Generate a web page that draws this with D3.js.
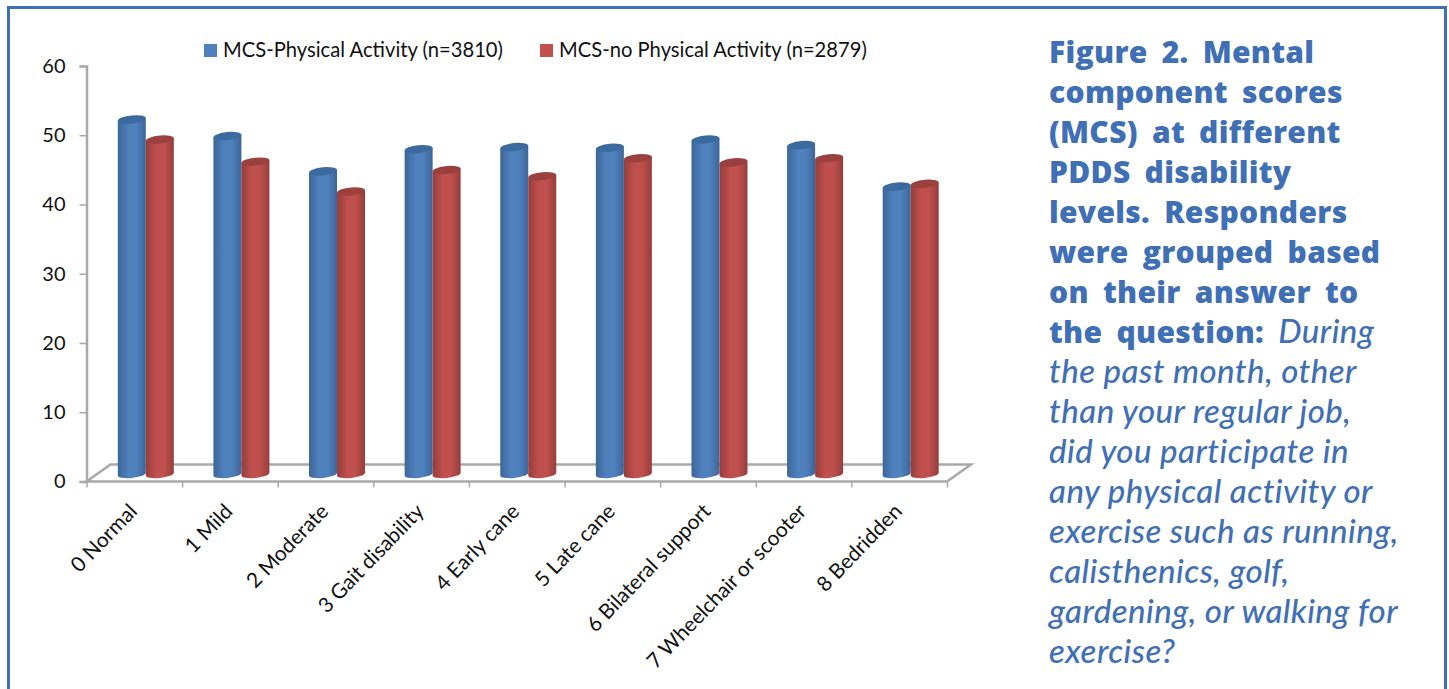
<!DOCTYPE html>
<html>
<head>
<meta charset="utf-8">
<script src="https://cdn.jsdelivr.net/npm/d3@7"></script>
<style>
	html, body { margin: 0; padding: 0; background: #fff; overflow: hidden; }
	text { font-family: Lato, sans-serif; fill: #111; }
</style>
</head>
<body>
<script>
const categories = ['0 Normal', '1 Mild', '2 Moderate', '3 Gait disability', '4 Early cane', '5 Late cane', '6 Bilateral support', '7 Wheelchair or scooter', '8 Bedridden'];
const seriesNames = ['MCS-Physical Activity (n=3810)', 'MCS-no Physical Activity (n=2879)'];
const activeValues = [51.2, 48.8, 43.7, 46.9, 47.2, 47.1, 48.3, 47.5, 41.5];
const inactiveValues = [48.3, 45.1, 40.8, 43.9, 43.0, 45.6, 45.0, 45.6, 41.9];
const yTicks = [0, 10, 20, 30, 40, 50, 60];

const boldLines = ['Figure 2. Mental', 'component scores', '(MCS) at different', 'PDDS disability', 'levels. Responders', 'were grouped based', 'on their answer to'];
const mixedLine = ['the question: ', 'During'];
const italicLines = ['the past month, other', 'than your regular job,', 'did you participate in', 'any physical activity or', 'exercise such as running,', 'calisthenics, golf,', 'gardening, or walking for', 'exercise?'];

const blue = { side: '#4f81bd', edge: '#3c6699', top: '#3b6a9f' };
const red = { side: '#c0504d', edge: '#943e3c', top: '#9a403e' };
const axisGrey = '#a9a9a9';
const inkBlue = '#3f6fb5';

const width = 1449;
const height = 689;

const svg = d3.select('body').append('svg')
	.attr('width', width)
	.attr('height', height);

// frame runs off the bottom of the page
svg.append('path')
	.attr('d', `M8.5,${height} V7.5 H1445.5 V${height}`)
	.attr('fill', 'none')
	.attr('stroke', inkBlue)
	.attr('stroke-width', 3);

const x = d3.scaleBand().domain(categories).range([86.5, 947]);
const xEdges = d3.scaleLinear().domain([0, categories.length]).range([86.5, 947]);
const y = d3.scaleLinear().domain([0, 60]).range([481.5, 66]);

// floor is sheared back by this much, bars stand halfway along it
const depth = { dx: 24, dy: -17 };
const barShift = { dx: 11.5, dy: -7.5 };
const barWidth = 28;

const defs = svg.append('defs');
[['blue', blue], ['red', red]].forEach(([id, c]) => {
	const grad = defs.append('linearGradient').attr('id', `cyl-${id}`);
	grad.append('stop').attr('offset', '0%').attr('stop-color', c.edge);
	grad.append('stop').attr('offset', '38%').attr('stop-color', c.side);
	grad.append('stop').attr('offset', '66%').attr('stop-color', c.side);
	grad.append('stop').attr('offset', '100%').attr('stop-color', c.edge);
});

// floor
const floorPts = [
	[x.range()[0], y(0)],
	[x.range()[1], y(0)],
	[x.range()[1] + depth.dx, y(0) + depth.dy],
	[x.range()[0] + depth.dx, y(0) + depth.dy],
];
svg.append('polygon')
	.attr('points', floorPts.join(' '))
	.attr('fill', '#fff')
	.attr('stroke', axisGrey)
	.attr('stroke-width', 2.5);

// axes
const yAxis = svg.append('g')
	.attr('transform', `translate(${x.range()[0]},0)`)
	.call(d3.axisLeft(y).tickValues(yTicks).tickSize(7).tickSizeOuter(7).tickPadding(14));
yAxis.select('.domain').attr('stroke', axisGrey).attr('stroke-width', 2.5);
yAxis.selectAll('.tick line').attr('stroke', axisGrey).attr('stroke-width', 1.5);
yAxis.selectAll('.tick text').attr('font-size', 20).attr('font-family', 'Lato, sans-serif');

const xAxis = svg.append('g')
	.attr('transform', `translate(0,${y(0)})`)
	.call(d3.axisBottom(xEdges).tickValues(d3.range(categories.length + 1)).tickSize(6).tickFormat(''));
xAxis.select('.domain').remove();
xAxis.selectAll('.tick line').attr('stroke', axisGrey).attr('stroke-width', 1.5);

svg.append('g').selectAll('text')
	.data(categories)
	.join('text')
	.attr('text-anchor', 'end')
	.attr('font-size', 20.8)
	.attr('transform', d => `translate(${x(d) + x.bandwidth() / 2 + 4},${y(0) + 31}) rotate(-46)`)
	.text(d => d);

// one tilted cylinder
const cylinder = (left, top, bottom) => {
	const rx = barWidth / 2;
	const ry = 4;
	const tilt = 1.4;
	const right = left + barWidth;
	return {
		body: `M${left},${top + tilt} L${left},${bottom + tilt} A${rx},${ry} -6 0 0 ${right},${bottom - tilt} L${right},${top - tilt} Z`,
		cap: `M${left},${top + tilt} A${rx},${ry} -6 0 1 ${right},${top - tilt} A${rx},${ry} -6 0 1 ${left},${top + tilt} Z`,
	};
};

const drawSeries = (values, id, c, offset) => {
	const bars = svg.append('g').selectAll('g')
		.data(categories.map((name, i) => ({ name, value: values[i] })))
		.join('g');
	const shape = d => cylinder(
		x(d.name) + x.bandwidth() / 2 + barShift.dx + offset,
		y(d.value) + barShift.dy,
		y(0) + barShift.dy
	);
	bars.append('path').attr('d', d => shape(d).body).attr('fill', `url(#cyl-${id})`);
	bars.append('path').attr('d', d => shape(d).cap).attr('fill', c.top);
};

drawSeries(activeValues, 'blue', blue, -barWidth);
drawSeries(inactiveValues, 'red', red, 0);

// legend
const legend = svg.append('g').selectAll('g')
	.data(seriesNames)
	.join('g')
	.attr('transform', (d, i) => `translate(${[204, 540][i]},44)`);
legend.append('rect')
	.attr('width', 13)
	.attr('height', 13)
	.attr('fill', (d, i) => [blue, red][i].side);
legend.append('text')
	.attr('x', 19)
	.attr('y', 12.5)
	.attr('font-size', 20.2)
	.text(d => d);

// caption
const lineY = d3.scaleLinear().domain([0, 1]).range([63, 103]);
const caption = svg.append('g');
const captionStyle = sel => sel.attr('x', 1049).style('fill', inkBlue);
const headStyle = sel => sel.attr('font-size', 30)
	.style('font-family', '"Open Sans", sans-serif')
	.style('letter-spacing', '0.3px')
	.style('word-spacing', '6px')
	.attr('font-weight', 800);
const bodyStyle = sel => sel.attr('font-size', 33)
	.style('font-family', 'Lato, sans-serif')
	.style('letter-spacing', '0.45px')
	.attr('font-style', 'italic')
	.attr('font-weight', 500);

caption.selectAll('text.head')
	.data(boldLines)
	.join('text')
	.attr('class', 'head')
	.attr('y', (d, i) => lineY(i))
	.call(captionStyle)
	.call(headStyle)
	.text(d => d);

const mixed = caption.append('text')
	.attr('y', lineY(boldLines.length))
	.call(captionStyle);
mixed.append('tspan').call(headStyle).text(mixedLine[0]);
mixed.append('tspan').call(bodyStyle).text(mixedLine[1]);

caption.selectAll('text.body')
	.data(italicLines)
	.join('text')
	.attr('class', 'body')
	.attr('y', (d, i) => lineY(boldLines.length + 1 + i))
	.call(captionStyle)
	.call(bodyStyle)
	.text(d => d);
</script>
</body>
</html>
